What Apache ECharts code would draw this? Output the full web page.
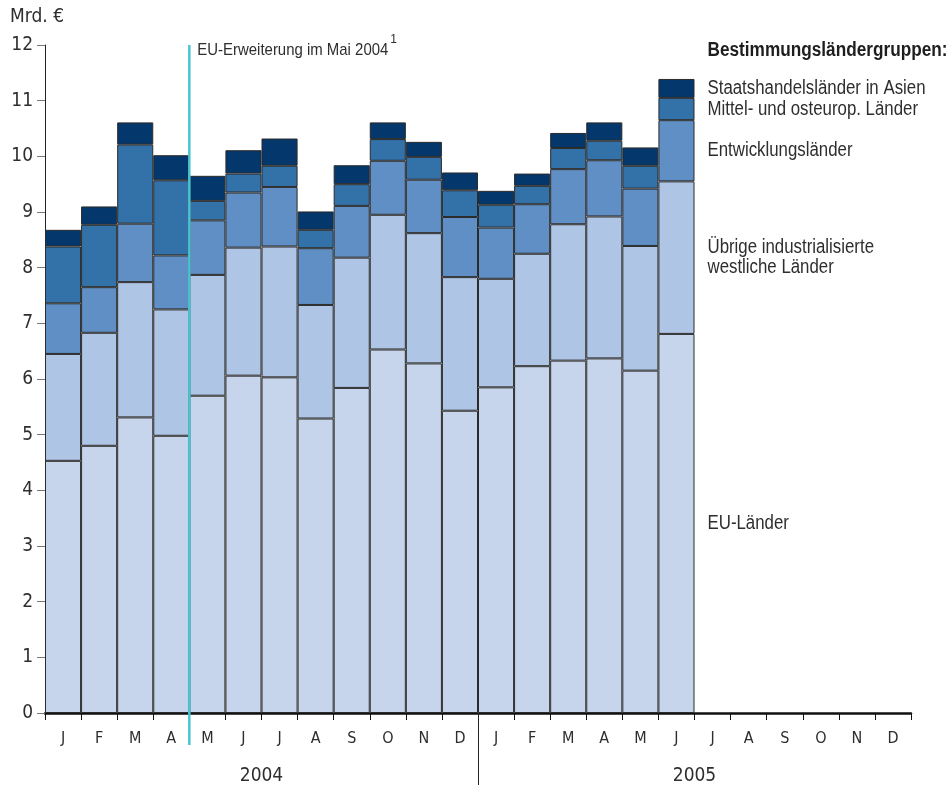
<!DOCTYPE html>
<html>
<head>
<meta charset="utf-8">
<script src="https://cdn.jsdelivr.net/npm/echarts@6/dist/echarts.min.js"></script>
<style>
html,body{margin:0;padding:0;background:#fff;}
#c{width:952px;height:789px;}
</style>
</head>
<body>
<div id="c"></div>
<script>
// ---- data ----
const months = ['J','F','M','A','M','J','J','A','S','O','N','D','J','F','M','A','M','J','J','A','S','O','N','D'];
const years = ['2004','2005'];
const seriesNames = ['EU-Länder','Übrige industrialisierte\nwestliche Länder','Entwicklungsländer','Mittel- und osteurop. Länder','Staatshandelsländer in Asien'];
const euLaender      = [4.53,4.80,5.31,4.98,5.70,6.06,6.03,5.29,5.84,6.53,6.28,5.43,5.85,6.23,6.33,6.37,6.15,6.81];
const uebrigeWest    = [1.92,2.03,2.43,2.27,2.17,2.30,2.35,2.04,2.34,2.42,2.34,2.40,1.95,2.02,2.45,2.55,2.24,2.74];
const entwicklung    = [0.91,0.82,1.05,0.97,0.98,0.99,1.07,1.02,0.93,0.97,0.96,1.08,0.92,0.89,0.99,1.01,1.03,1.10];
const mittelOst      = [1.02,1.12,1.42,1.35,0.35,0.34,0.38,0.33,0.39,0.39,0.41,0.48,0.41,0.33,0.38,0.35,0.41,0.40];
const staatshandel   = [0.30,0.33,0.40,0.45,0.45,0.42,0.49,0.33,0.34,0.30,0.27,0.32,0.25,0.22,0.27,0.33,0.33,0.34];
const yTicks = [0,12,1];
const euEnlargementIndex = 4;   // boundary between April and May 2004
const yearBoundaryIndex = 12;   // boundary between 2004 and 2005
const legendTitle = 'Bestimmungsländergruppen:';
const annotation = 'EU-Erweiterung im Mai 2004';

const colors = ['#c6d5eb','#afc5e5','#5f8fc4','#3371a9','#04376b'];
const AXFONT = "'DejaVu Sans Condensed','Liberation Sans',sans-serif";
const TFONT = "'Liberation Sans',Arial,sans-serif";
const TXT = '#2e2e2e';

function measure(text, font) {
  const ctx = document.createElement('canvas').getContext('2d');
  ctx.font = font;
  return ctx.measureText(text).width;
}

const chart = echarts.init(document.getElementById('c'));
const allSeries = [euLaender, uebrigeWest, entwicklung, mittelOst, staatshandel];

const barSeries = allSeries.map((arr, si) => ({
  type: 'bar',
  name: seriesNames[si],
  stack: 'total',
  barCategoryGap: 0,
  xAxisIndex: 0,
  yAxisIndex: 0,
  itemStyle: {color: colors[si], borderColor: '#2b2b2b', borderWidth: 1},
  emphasis: {disabled: true},
  data: arr.slice()
}));

chart.setOption({
  animation: false,
  textStyle: {fontFamily: AXFONT},
  grid: {left: 45, right: 41, top: 45, bottom: 76, containLabel: false},
  xAxis: [
    {type: 'category', data: months, boundaryGap: true, position: 'bottom',
     axisLine: {show: true, lineStyle: {color: '#111', width: 2.5}},
     axisTick: {show: true, alignWithLabel: false, length: 7, lineStyle: {color: '#111', width: 1}},
     axisLabel: {color: TXT, fontSize: 16, margin: 18, interval: 0, fontFamily: AXFONT},
     splitLine: {show: false}},
    {type: 'value', min: 0, max: 24, show: false},
    {type: 'category', data: years, position: 'bottom', offset: 0,
     axisLine: {show: false}, axisTick: {show: false},
     axisLabel: {color: TXT, fontSize: 19, margin: 54, fontFamily: AXFONT},
     splitLine: {show: false}}
  ],
  yAxis: [{
    type: 'value', min: yTicks[0], max: yTicks[1], interval: yTicks[2],
    name: 'Mrd. €', nameLocation: 'end', nameGap: 18,
    nameTextStyle: {color: TXT, fontSize: 19, align: 'left', padding: [0,0,0,-35], fontFamily: AXFONT},
    axisLine: {show: true, lineStyle: {color: '#222', width: 1}},
    axisTick: {show: true, length: 8, lineStyle: {color: '#777', width: 1}},
    axisLabel: {color: TXT, fontSize: 19, margin: 12, fontFamily: AXFONT},
    splitLine: {show: false}
  }],
  series: [
    ...barSeries,
    {type: 'bar', xAxisIndex: 2, yAxisIndex: 0, data: [], silent: true}
  ]
});

// annotation lines placed through the axes' scales
const xEU = chart.convertToPixel({xAxisIndex: 1}, euEnlargementIndex);
const xYear = Math.round(chart.convertToPixel({xAxisIndex: 1}, yearBoundaryIndex)) + 0.5;
const yTop = chart.convertToPixel({yAxisIndex: 0}, yTicks[1]);
const yZero = chart.convertToPixel({yAxisIndex: 0}, yTicks[0]);

// legend labels beside the last bar, centred on each segment
const lastIdx = euLaender.length - 1;
const xLast = chart.convertToPixel({xAxisIndex: 1}, lastIdx + 1);
const legendX = xLast + 13;
const LFS = 20;
const lfont = LFS + 'px ' + TFONT;
const legendScale = 218 / measure(seriesNames[4], lfont);
const titleFont = 'bold ' + LFS + 'px ' + TFONT;
const titleScale = 240 / measure(legendTitle, titleFont);
const annFont = '17px ' + TFONT;
const annScale = 191 / measure(annotation, annFont);

const graphics = [];
let cum = 0;
allSeries.forEach((arr, si) => {
  const lo = cum, hi = cum + arr[lastIdx];
  cum = hi;
  const yMid = chart.convertToPixel({yAxisIndex: 0}, (lo + hi) / 2);
  graphics.push({type: 'text', x: legendX, y: yMid, scaleX: legendScale, z: 100,
    style: {text: seriesNames[si], font: lfont, fill: TXT, verticalAlign: 'middle', lineHeight: 20}});
});

graphics.push(
  {type: 'line', shape: {x1: xEU, y1: yTop, x2: xEU, y2: yZero + 32}, style: {stroke: '#4cc4d0', lineWidth: 2.5}, z: 100},
  {type: 'line', shape: {x1: xYear, y1: yZero, x2: xYear, y2: yZero + 72}, style: {stroke: '#222', lineWidth: 1}, z: 100},
  {type: 'text', x: xEU + 8, y: yTop + 5, scaleX: annScale, z: 100,
   style: {text: annotation, font: annFont, fill: TXT, verticalAlign: 'middle'}},
  {type: 'text', x: xEU + 8 + 193, y: yTop - 5, z: 100,
   style: {text: '1', font: '12px ' + TFONT, fill: TXT, verticalAlign: 'middle'}},
  {type: 'text', x: legendX, y: yTop + 5, scaleX: titleScale, z: 100,
   style: {text: legendTitle, font: titleFont, fill: '#1e1e1e', verticalAlign: 'middle'}}
);

chart.setOption({graphic: graphics});
</script>
</body>
</html>
